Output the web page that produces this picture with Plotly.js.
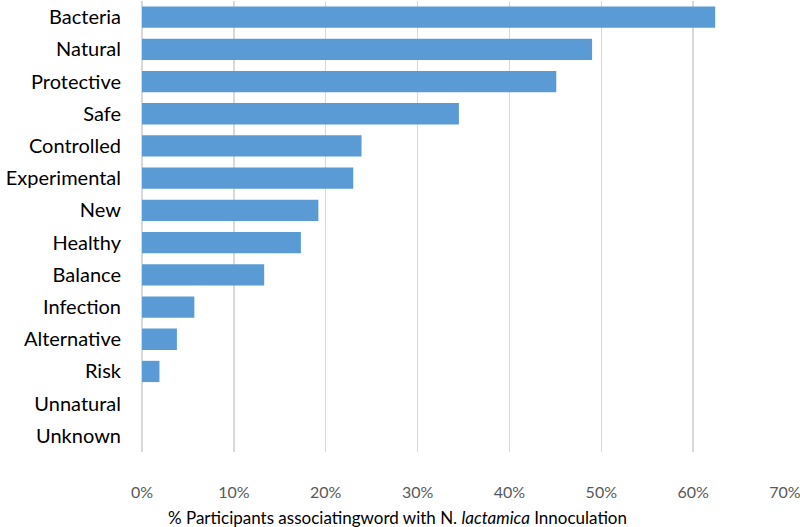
<!DOCTYPE html>
<html>
<head>
<meta charset="utf-8">
<script src="https://cdn.plot.ly/plotly-3.0.1.min.js"></script>
<style>html,body{margin:0;padding:0;background:#fff;}#chart{width:800px;height:527px;}</style>
</head>
<body>
<div id="chart"></div>
<script>
const words = ["Bacteria","Natural","Protective","Safe","Controlled","Experimental","New","Healthy","Balance","Infection","Alternative","Risk","Unnatural","Unknown"];
const percentages = [62.4, 49.0, 45.1, 34.5, 23.9, 23.0, 19.2, 17.3, 13.3, 5.7, 3.8, 1.9, 0, 0];
const xTickValues = [0, 10, 20, 30, 40, 50, 60, 70];
const xTickLabels = ["0%","10%","20%","30%","40%","50%","60%","70%"];
const axisTitle = "% Participants associatingword with N. <i>lactamica</i> Innoculation";

const trace = {
  type: "bar",
  orientation: "h",
  y: words,
  x: percentages,
  marker: {color: "#5B9BD5", line: {width: 0}},
  hoverinfo: "x+y"
};

const layout = {
  width: 800, height: 527,
  margin: {l: 142, r: 15, t: 1, b: 75},
  paper_bgcolor: "#fff", plot_bgcolor: "#fff",
  showlegend: false,
  bargap: 0.34,
  font: {family: "Lato, 'Open Sans', sans-serif"},
  xaxis: {
    range: [0, 70],
    tickvals: xTickValues,
    ticktext: xTickLabels,
    showgrid: true,
    gridcolor: "#D9D9D9",
    gridwidth: 1.5,
    zeroline: true,
    zerolinecolor: "#D9D9D9",
    zerolinewidth: 1.5,
    showline: false,
    ticks: "",
    ticklabelstandoff: 29,
    ticklabeloverflow: "allow",
    tickfont: {size: 16, color: "#595959", family: "Lato, 'Open Sans', sans-serif"},
    fixedrange: true
  },
  yaxis: {
    type: "category",
    autorange: "reversed",
    showgrid: false,
    zeroline: false,
    showline: false,
    ticks: "",
    ticklabelstandoff: 20,
    tickfont: {size: 20, color: "#000", family: "Lato, 'Open Sans', sans-serif"},
    fixedrange: true
  },
  annotations: [{
    text: axisTitle,
    xref: "paper", yref: "paper",
    x: 0.397, y: 0,
    xanchor: "center", yanchor: "middle",
    yshift: -65,
    showarrow: false,
    font: {size: 17, color: "#000", family: "Lato, 'Open Sans', sans-serif"}
  }]
};

Plotly.newPlot("chart", [trace], layout, {displayModeBar: false, staticPlot: true});
</script>
</body>
</html>
